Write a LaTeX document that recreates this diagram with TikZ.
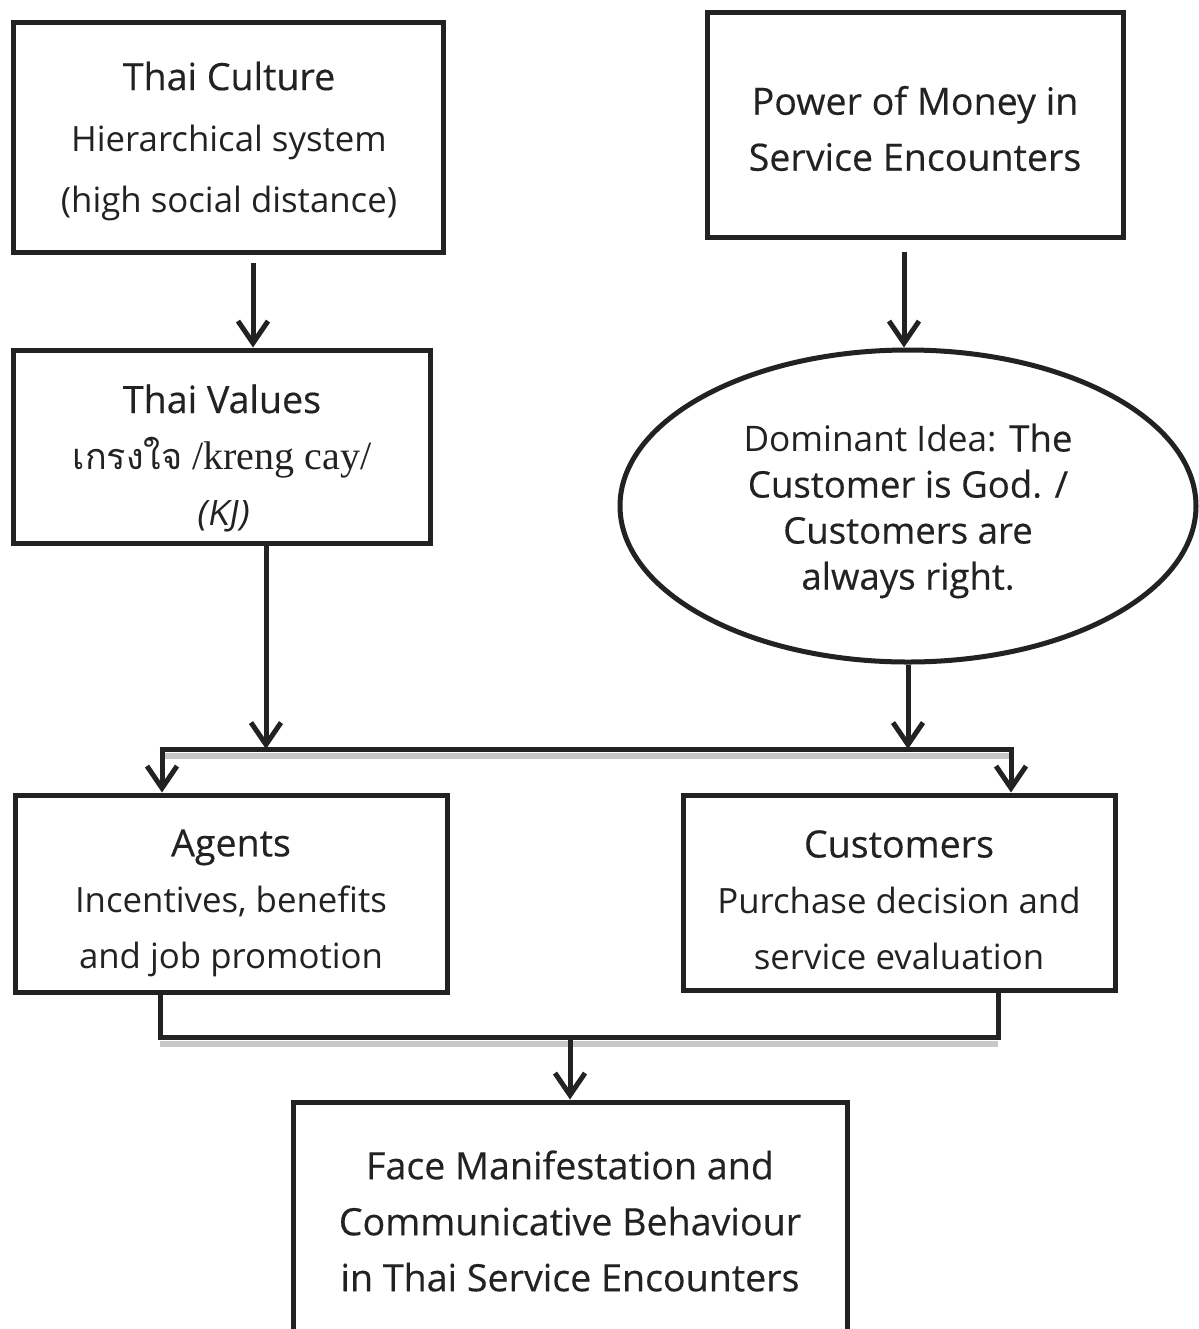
\documentclass[tikz,border=0pt]{standalone}
\usepackage{fontspec}
\setmainfont[FakeBold=0.35]{Open Sans}
\newfontfamily\oslightfam{Open Sans}
\newcommand{\oslight}{\oslightfam\fontsize{17.4}{28}\selectfont}
\newfontfamily\thaifont[Script=Thai]{Loma}
\newfontfamily\osit[FakeSlant=0.18]{Open Sans}
\newfontfamily\serifkc{Liberation Serif}
\usetikzlibrary{arrows.meta,shapes.geometric}
\definecolor{ink}{HTML}{222222}
\begin{document}
\begin{tikzpicture}[x=0.5pt,y=-0.5pt,
  box/.style={draw=ink, line width=2.5pt, fill=white, inner sep=0pt},
  txt/.style={align=center, text=ink, inner sep=0pt, font=\fontsize{18.8}{28}\selectfont},
  conn/.style={draw=ink, line width=2.5pt},
  halo/.style={draw=black!22, line width=3pt},
  arr/.style={conn, -{Straight Barb[length=11pt,width=15pt,line width=2.5pt]}}
]
\useasboundingbox[fill=white] (0,0) rectangle (1199,1329);

% boxes
\node[box, minimum width=215pt, minimum height=115pt] (tc) at (228,137) {};
\node[box, minimum width=208pt, minimum height=112.5pt] (pm) at (915,124.5) {};
\node[box, minimum width=208.5pt, minimum height=96.5pt] (tv) at (221.5,446.5) {};
\node[box, ellipse, minimum width=288pt, minimum height=156pt] (el) at (908,506) {};
\node[box, minimum width=216pt, minimum height=98.5pt] (ag) at (231,893.5) {};
\node[box, minimum width=216pt, minimum height=97.5pt] (cu) at (899,892.5) {};
\node[box, minimum width=277pt, minimum height=119pt] (fm) at (570,1221) {};

% texts
\node[txt, font=\fontsize{18.8}{30.5}\selectfont] (tct) at (229,141)
  {Thai Culture\\{\oslight Hierarchical system}\\{\oslight (high social distance)}};
\node[txt] (pmt) at (915,128.5) {Power of Money in\\Service Encounters};
\node[txt] (tvt) at (222,458)
  {Thai Values\\{\thaifont\fontsize{18}{28}\selectfont เกรงใจ} {\serifkc\fontsize{20}{28}\selectfont /kreng cay/}\\{\osit\fontsize{17.5}{28}\selectfont (KJ)}};
\node[txt, font=\fontsize{18.3}{23}\selectfont] (elt) at (908,511)
  {{\oslightfam\fontsize{17.6}{23}\selectfont Dominant Idea:} The\\Customer is God. /\\Customers are\\always right.};
\node[txt] (agt) at (231,903) {Agents\\{\oslight Incentives, benefits}\\{\oslight and job promotion}};
\node[txt] (cut) at (899,900) {Customers\\{\oslight Purchase decision and}\\{\oslight service evaluation}};
\node[txt] (fmt) at (570,1221)
  {Face Manifestation and\\Communicative Behaviour\\in Thai Service Encounters};

\coordinate (x1) at (253,0);
\coordinate (x2) at (904,0);
\coordinate (x3) at (266,0);
\coordinate (x4) at (908,0);
\coordinate (jl) at (162,749);
\coordinate (jr) at (1011,749);
\coordinate (bl) at (160,1037);
\coordinate (br) at (998,1037);
\coordinate (bm) at (570,1037);

% faint scan halo under the horizontal bars
\draw[halo] ([xshift=1pt,yshift=-3.3pt]jl) -- ([xshift=-1pt,yshift=-3.3pt]jr);
\draw[halo] ([yshift=-3.3pt]bl) -- ([yshift=-3.3pt]br);

\draw[arr, shorten <=4pt] (tc.south -| x1) -- (tv.north -| x1);
\draw[arr, shorten <=6pt] (pm.south -| x2) -- (el.north -| x2);
\draw[arr] (tv.south -| x3) -- (x3 |- jl);
\draw[arr] (el.south -| x4) -- (x4 |- jl);
\draw[conn] ([xshift=-1.25pt]jl) -- ([xshift=1.25pt]jr);
\draw[arr] (jl) -- (ag.north -| jl);
\draw[arr] (jr) -- (cu.north -| jr);
\draw[conn] (ag.south -| bl) -- (bl) -- (br) -- (cu.south -| br);
\draw[arr] (bm) -- (fm.north);
\end{tikzpicture}
\end{document}
